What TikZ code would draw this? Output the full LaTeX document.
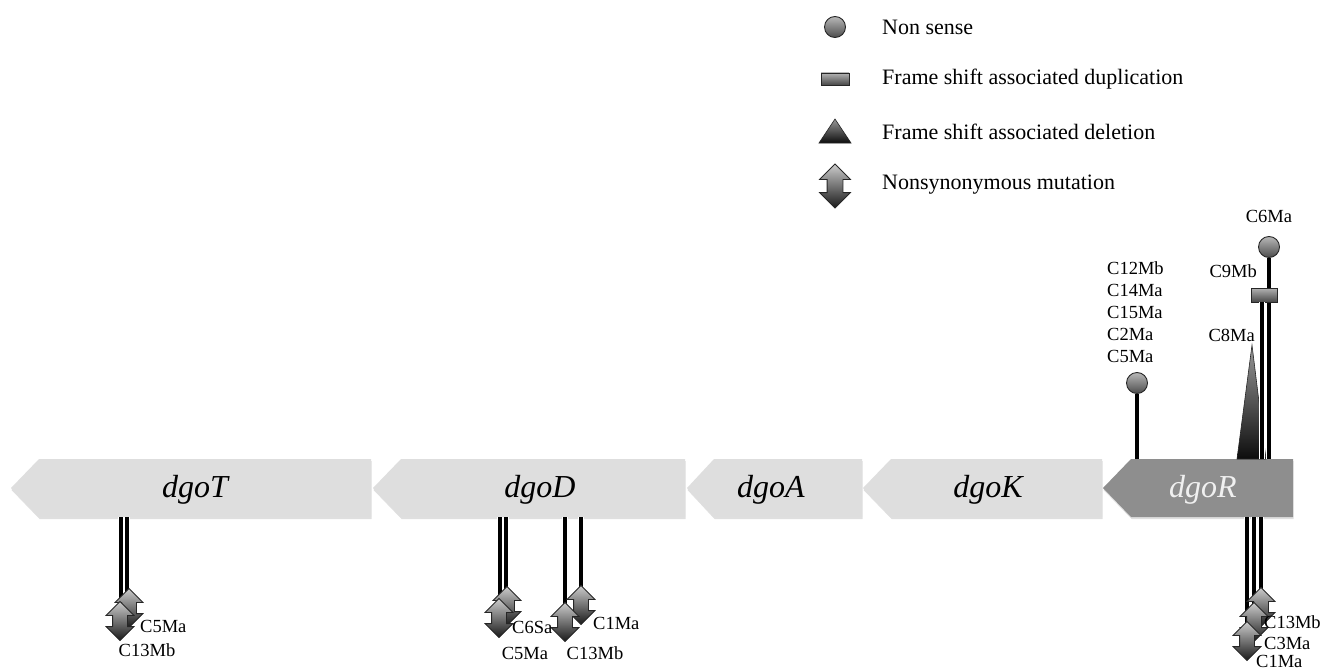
\documentclass[tikz,border=0pt]{standalone}
\usepackage{fontspec}
\setmainfont{Liberation Serif}
\usetikzlibrary{shapes.geometric,shapes.arrows,shadows}
\definecolor{genelight}{HTML}{DEDEDE}
\definecolor{genedark}{HTML}{8E8E8E}
\begin{document}
\begin{tikzpicture}[x=1pt,y=-1pt,
  gene/.style={fill=genelight, draw=none, drop shadow={shadow xshift=0.5pt,shadow yshift=-2pt,opacity=0.25}},
  darkgene/.style={fill=genedark, draw=none, drop shadow={shadow xshift=0.5pt,shadow yshift=-2pt,opacity=0.25}},
  genelbl/.style={font=\fontsize{32}{36}\selectfont\itshape, inner sep=0pt},
  lbl/.style={font=\fontsize{18.5}{22}\selectfont, inner sep=0pt},
  legtxt/.style={font=\fontsize{22}{26}\selectfont, inner sep=0pt, anchor=west},
  stem/.style={line width=3.4pt, black, preaction={draw=white, line width=5.2pt}},
  ballmk/.style={circle, minimum size=21pt, inner sep=0pt, draw=black!85, line width=0.9pt, top color=black!28, bottom color=black!70},
  dupmk/.style={rectangle, minimum width=26pt, minimum height=14pt, inner sep=0pt, draw=black!85, line width=0.9pt, top color=black!30, bottom color=black!72},
  delmk/.style={draw=black!85, line width=0.6pt, top color=black!40, bottom color=black!95},
  mutarrow/.style={double arrow, shape border rotate=90, minimum height=39pt, minimum width=27pt,
    double arrow head extend=6.5pt, inner sep=7pt, draw=black!85, line width=0.8pt,
    top color=black!20, bottom color=black!90}
]
\useasboundingbox (0,0) rectangle (1326,669);

% ---------- genes ----------
\path[gene] (11,488) -- (39,459) -- (371,459) -- (371,517) -- (39,517) -- cycle;
\path[gene] (373,488) -- (401,459) -- (685,459) -- (685,517) -- (401,517) -- cycle;
\path[gene] (687,488) -- (714,459) -- (862,459) -- (862,517) -- (714,517) -- cycle;
\path[gene] (863,488) -- (891,459) -- (1102,459) -- (1102,517) -- (891,517) -- cycle;
\path[darkgene] (1103,488) -- (1131,459) -- (1293,459) -- (1293,517) -- (1131,517) -- cycle;

\node[genelbl] (dgoT) at (195,490) {dgoT};
\node[genelbl] (dgoD) at (540,490) {dgoD};
\node[genelbl] (dgoA) at (771,490) {dgoA};
\node[genelbl] (dgoK) at (988,490) {dgoK};
\node[genelbl, text=white!94!black] (dgoR) at (1203,490) {dgoR};

% ---------- anchor points on gene edges ----------
\coordinate (tT1) at (121,517);
\coordinate (tT2) at (127,517);
\coordinate (tD1) at (500,517);
\coordinate (tD2) at (506,517);
\coordinate (tD3) at (565,517);
\coordinate (tD4) at (581,517);
\coordinate (tR1) at (1247,517);
\coordinate (tR2) at (1254,517);
\coordinate (tR3) at (1261,517);
\coordinate (uR1) at (1137,459);
\coordinate (uR2) at (1262,459);
\coordinate (uR3) at (1269,459);

% ---------- deletion triangle on dgoR ----------
\path[delmk] (1237,459) -- (1252,345) -- (1266,459) -- cycle;
\coordinate (delR) at (1252,345);

% ---------- markers above dgoR ----------
\node[ballmk] (nsA) at (1137,383) {};
\node[ballmk] (nsB) at (1269,247) {};
\draw[stem] (uR1) -- (nsA.south);
\draw[stem] (uR3) -- (nsB.south);
\node[dupmk] (dupR) at (1264,295) {};
\draw[stem] (uR2) -- (dupR.south -| uR2);

% ---------- nonsynonymous mutations (positions) ----------
\coordinate (mT2) at (129,608);
\coordinate (mT1) at (120,621);
\coordinate (mD2) at (507,606);
\coordinate (mD1) at (499,618);
\coordinate (mD4) at (581,605);
\coordinate (mD3) at (565,622);
\coordinate (mR3) at (1261,607);
\coordinate (mR2) at (1254,622);
\coordinate (mR1) at (1247,641);
% stem ends (top of each arrow)
\coordinate (eT2) at (127,592);
\coordinate (eT1) at (121,605);
\coordinate (eD2) at (506,590);
\coordinate (eD1) at (500,602);
\coordinate (eD4) at (581,589);
\coordinate (eD3) at (565,606);
\coordinate (eR3) at (1261,591);
\coordinate (eR2) at (1254,606);
\coordinate (eR1) at (1247,625);

% stems first
\draw[stem] (tT2) -- (eT2);
\draw[stem] (tT1) -- (eT1);
\draw[stem] (tD2) -- (eD2);
\draw[stem] (tD1) -- (eD1);
\draw[stem] (tD4) -- (eD4);
\draw[stem] (tD3) -- (eD3);
\draw[stem] (tR3) -- (eR3);
\draw[stem] (tR2) -- (eR2);
\draw[stem] (tR1) -- (eR1);

% arrows, back to front
\node[mutarrow] (aT2) at (mT2) {};
\node[mutarrow] (aT1) at (mT1) {};
\node[mutarrow] (aD2) at (mD2) {};
\node[mutarrow] (aD1) at (mD1) {};
\node[mutarrow] (aD4) at (mD4) {};
\node[mutarrow] (aD3) at (mD3) {};
\node[mutarrow] (aR3) at (mR3) {};
\node[mutarrow] (aR2) at (mR2) {};
\node[mutarrow] (aR1) at (mR1) {};

% ---------- labels ----------
\node[lbl, anchor=west] (lT2) at (140,626) {C5Ma};
\node[lbl] (lT1) at (147,650) {C13Mb};
\node[lbl, anchor=west] (lD2) at (512,627) {C6Sa};
\node[lbl] (lD1) at (525,653) {C5Ma};
\node[lbl] (lD3) at (595,653) {C13Mb};
\node[lbl, anchor=west] (lD4) at (593,623) {C1Ma};
\node[lbl, anchor=west] (lR3) at (1264,622) {C13Mb};
\node[lbl, anchor=west] (lR2) at (1264,643) {C3Ma};
\node[lbl, anchor=west] (lR1) at (1256,661) {C1Ma};

\node[lbl, anchor=west, align=left] (lnsA) at (1107,312) {C12Mb\\C14Ma\\C15Ma\\C2Ma\\C5Ma};
\node[lbl] (lnsB) at (1269,216) {C6Ma};
\node[lbl, anchor=east] (ldup) at (1257,271) {C9Mb};
\node[lbl, anchor=east] (ldel) at (1255,335) {C8Ma};

% ---------- legend ----------
\node[ballmk] (lgBall) at (835,27) {};
\node[dupmk, minimum width=28pt, minimum height=12pt] (lgDup) at (835,79) {};
\path[delmk] (819,143) -- (835,119) -- (851,143) -- cycle;
\coordinate (lgDel) at (835,132);
\node[mutarrow, minimum height=44pt, minimum width=30pt, inner sep=7.5pt, double arrow head extend=7.5pt] (lgArr) at (835,186) {};

\node[legtxt] (lgT1) at (882,27) {Non sense};
\node[legtxt] (lgT2) at (882,79) {Frame shift associated duplication};
\node[legtxt] (lgT3) at (882,132) {Frame shift associated deletion};
\node[legtxt] (lgT4) at (882,185) {Nonsynonymous mutation};
\end{tikzpicture}
\end{document}
